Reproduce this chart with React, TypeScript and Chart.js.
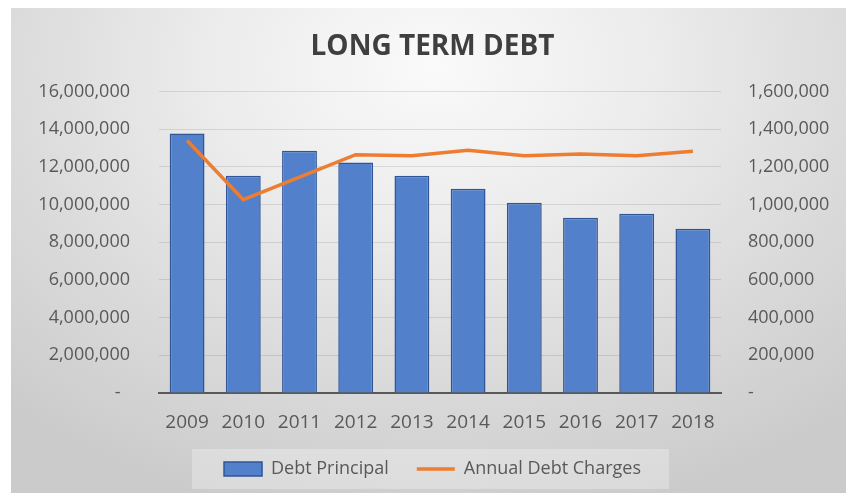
import React, { useEffect, useRef } from "react";
import { Chart, registerables } from "chart.js";

Chart.register(...registerables);

const years = ["2009", "2010", "2011", "2012", "2013", "2014", "2015", "2016", "2017", "2018"];
const debtPrincipal = [13770000, 11530000, 12860000, 12230000, 11530000, 10840000, 10100000, 9300000, 9510000, 8720000];
const annualDebtCharges = [1340000, 1026000, 1146000, 1265000, 1260000, 1288000, 1260000, 1269000, 1260000, 1283000];
const leftMax = 16000000;
const leftStep = 2000000;
const rightMax = 1600000;
const rightStep = 200000;

const FONT = "'Open Sans', 'Noto Sans', sans-serif";
const TEXT = "#595959";

const fmt = (v: number) => (v === 0 ? "-  " : Math.round(v).toLocaleString("en-US"));

const legendBg = {
  id: "legendBg",
  beforeDraw(chart: any) {
    const lg = chart.legend;
    if (!lg || !lg.legendHitBoxes || !lg.legendHitBoxes.length) return;
    const hb = lg.legendHitBoxes;
    let l = Infinity, r = -Infinity;
    hb.forEach((h: any) => {
      l = Math.min(l, h.left);
      r = Math.max(r, h.left + h.width);
    });
    const cy = hb[0].top + hb[0].height / 2;
    const ctx = chart.ctx;
    ctx.save();
    ctx.fillStyle = "rgba(255,255,255,0.28)";
    ctx.fillRect(l - 32, cy - 20, r - l + 60, 40);
    ctx.restore();
  },
};

export default function App() {
  const ref = useRef<HTMLCanvasElement | null>(null);
  useEffect(() => {
    if (!ref.current) return;
    const chart = new Chart(ref.current, {
      type: "bar",
      data: {
        labels: years,
        datasets: [
          {
            type: "line",
            label: "Annual Debt Charges",
            data: annualDebtCharges,
            yAxisID: "y1",
            borderColor: "#ED7D31",
            backgroundColor: "#ED7D31",
            borderWidth: 3.5,
            pointRadius: 0,
            tension: 0,
            order: 0,
          } as any,
          {
            type: "bar",
            label: "Debt Principal",
            data: debtPrincipal,
            yAxisID: "y",
            backgroundColor: "#5280CB",
            borderColor: "#2F5597",
            borderWidth: 1.5,
            barPercentage: 0.62,
            categoryPercentage: 1,
            order: 1,
          } as any,
        ],
      },
      options: {
        responsive: false,
        animation: false,
        devicePixelRatio: 1,
        layout: { padding: { left: 0, right: 0, top: 0, bottom: 5 } },
        plugins: {
          title: {
            display: true,
            text: "LONG TERM DEBT",
            color: "#3F3F3F",
            font: { family: FONT, size: 28, weight: "bold" },
            padding: { top: 22, bottom: 28 },
          },
          legend: {
            position: "bottom",
            labels: {
              color: TEXT,
              font: { family: FONT, size: 18 },
              usePointStyle: true,
              pointStyleWidth: 38,
              boxHeight: 14,
              padding: 28,
              generateLabels: () => [
                {
                  text: "Debt Principal",
                  fillStyle: "#5280CB",
                  strokeStyle: "#2F5597",
                  lineWidth: 1.5,
                  pointStyle: "rect",
                  fontColor: TEXT,
                  datasetIndex: 1,
                },
                {
                  text: "Annual Debt Charges",
                  fillStyle: "#ED7D31",
                  strokeStyle: "#ED7D31",
                  lineWidth: 3.5,
                  pointStyle: "line",
                  fontColor: TEXT,
                  datasetIndex: 0,
                },
              ],
            },
          },
          tooltip: { enabled: false },
        },
        scales: {
          x: {
            grid: { display: false, drawTicks: false },
            border: { display: true, color: "#595959", width: 2 },
            ticks: { color: TEXT, font: { family: FONT, size: 19 }, padding: 18 },
            afterFit: (s: any) => {
              s.height = 39;
            },
          },
          y: {
            position: "left",
            min: 0,
            max: leftMax,
            grid: { color: "rgba(0,0,0,0.10)", lineWidth: 1, drawTicks: false },
            border: { display: false },
            ticks: {
              stepSize: leftStep,
              color: TEXT,
              font: { family: FONT, size: 18 },
              padding: 29,
              callback: (v: any) => fmt(Number(v)),
            },
            afterFit: (s: any) => {
              s.width = 148;
            },
          },
          y1: {
            position: "right",
            min: 0,
            max: rightMax,
            grid: { display: false, drawTicks: false },
            border: { display: false },
            ticks: {
              stepSize: rightStep,
              color: TEXT,
              font: { family: FONT, size: 18 },
              padding: 27,
              callback: (v: any) => fmt(Number(v)),
            },
            afterFit: (s: any) => {
              s.width = 133;
            },
          },
        },
      },
      plugins: [legendBg],
    });
    return () => chart.destroy();
  }, []);

  return (
    <div
      style={{
        marginLeft: 3,
        width: 843,
        height: 485,
        background:
          "radial-gradient(ellipse 75% 95% at 50% 12%, #fafafa 0%, #ececec 35%, #dcdcdc 65%, #cbcbcb 100%)",
      }}
    >
      <canvas ref={ref} width={843} height={485} style={{ display: "block" }} />
    </div>
  );
}
